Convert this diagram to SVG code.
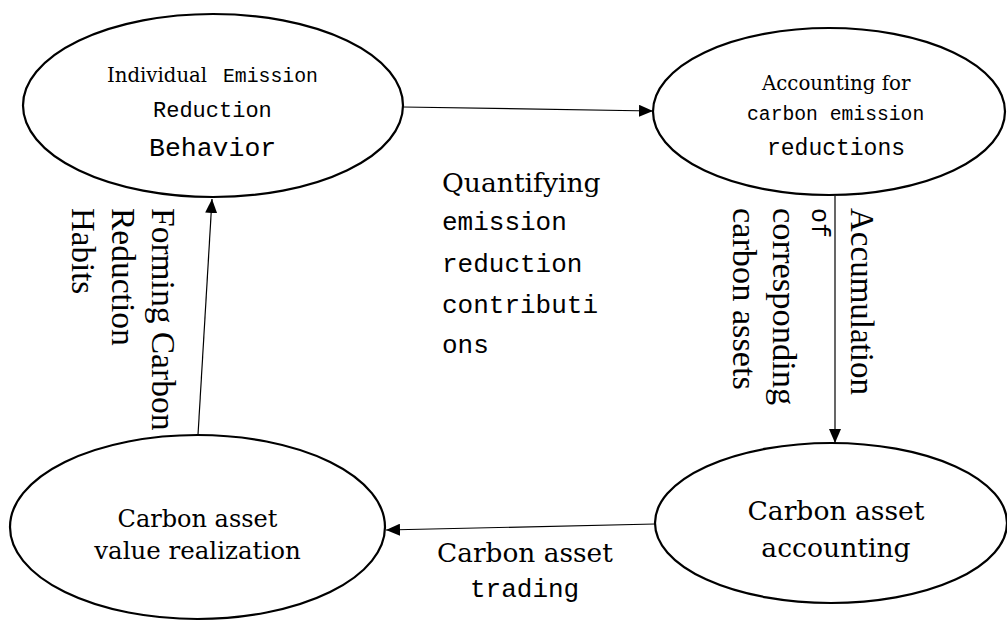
<svg xmlns="http://www.w3.org/2000/svg" width="1007" height="621" viewBox="0 0 1007 621">
<style>
.node{fill:#fff;stroke:#000;stroke-width:2.2}
.edge{stroke:#000;stroke-width:1.2;fill:none}
.cb{font-family:"DejaVu Serif","Liberation Serif",serif;fill:#000}
.ss{font-family:"Liberation Mono","DejaVu Sans Mono",monospace;fill:#000}
.tn{font-family:"Liberation Serif","Times New Roman",serif;fill:#000}
</style>
<defs>
<marker id="ah" markerWidth="14" markerHeight="12" refX="14" refY="6" orient="auto" markerUnits="userSpaceOnUse">
<path d="M0,0 L14,6 L0,12 z" fill="#000"/>
</marker>
</defs>
<rect width="1007" height="621" fill="#fff"/>
<g id="connectors">
<line class="edge" x1="403" y1="107" x2="653" y2="111" marker-end="url(#ah)"/>
<line class="edge" x1="835" y1="196" x2="835" y2="443" marker-end="url(#ah)"/>
<line class="edge" x1="655" y1="524" x2="386" y2="530" marker-end="url(#ah)"/>
<line class="edge" x1="198" y1="435" x2="212" y2="199" marker-end="url(#ah)"/>
</g>
<g id="node-behavior">
<ellipse class="node" cx="213" cy="105.5" rx="190" ry="91.5"/>
<text class="cb" x="107" y="82" font-size="19.7">Individual</text>
<text class="ss" x="223" y="82" font-size="19.8">Emission</text>
<text class="ss" x="153" y="117" font-size="22">Reduction</text>
<text class="ss" x="149" y="156" font-size="26.5">Behavior</text>
</g>
<g id="node-accounting-reductions">
<ellipse class="node" cx="829" cy="111.5" rx="176" ry="83.5"/>
<text class="cb" x="762" y="90" font-size="19.8">Accounting for</text>
<text class="ss" x="747" y="120" font-size="19.7">carbon emission</text>
<text class="ss" x="767" y="155" font-size="23">reductions</text>
</g>
<g id="node-asset-accounting">
<ellipse class="node" cx="831" cy="523" rx="176" ry="80"/>
<text class="cb" x="836" y="520" font-size="26.6" text-anchor="middle">Carbon asset</text>
<text class="cb" x="836" y="557" font-size="26.6" text-anchor="middle">accounting</text>
</g>
<g id="node-value-realization">
<ellipse class="node" cx="197.5" cy="527" rx="187.5" ry="92"/>
<text class="cb" x="197.5" y="527" font-size="24" text-anchor="middle">Carbon asset</text>
<text class="cb" x="197.5" y="559" font-size="24.5" text-anchor="middle">value realization</text>
</g>
<g id="labels">
<text class="cb" x="442" y="192" font-size="26.6">Quantifying</text>
<text class="ss" x="442" y="230" font-size="26">emission</text>
<text class="ss" x="442" y="272" font-size="26">reduction</text>
<text class="ss" x="442" y="313" font-size="26">contributi</text>
<text class="ss" x="442" y="353" font-size="26">ons</text>
<g transform="translate(152,208) rotate(90)">
<text class="tn" x="0" y="0" font-size="33.5">Forming Carbon</text>
<text class="tn" x="0" y="40" font-size="33.5">Reduction</text>
<text class="tn" x="0" y="80" font-size="33">Habits</text>
</g>
<g transform="translate(851,208) rotate(90)">
<text class="tn" x="0" y="0" font-size="33">Accumulation</text>
<text class="ss" x="0" y="39" font-size="25">of</text>
<text class="tn" x="0" y="78" font-size="34.5">corresponding</text>
<text class="tn" x="0" y="118" font-size="34.3">carbon assets</text>
</g>
<text class="cb" x="437" y="562" font-size="26.4">Carbon asset</text>
<text class="ss" x="470" y="597" font-size="26">trading</text>
</g>
</svg>
